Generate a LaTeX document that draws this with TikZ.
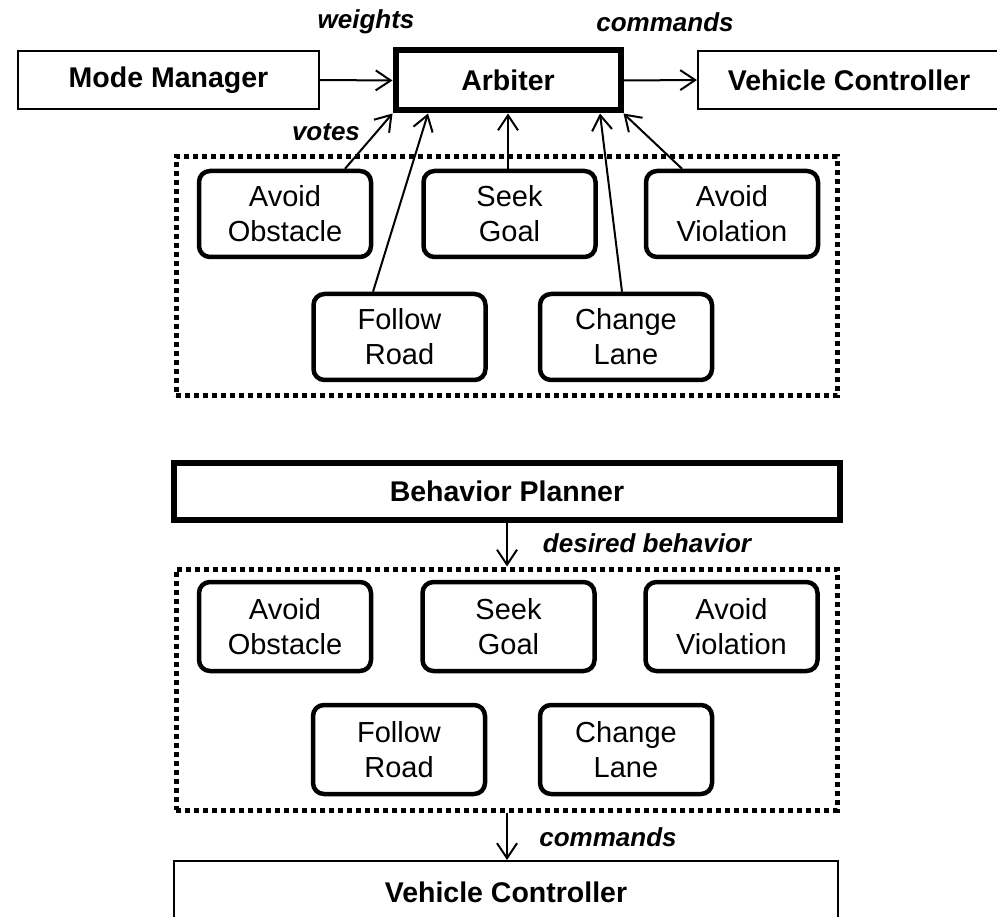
\documentclass[tikz,border=0pt]{standalone}
\usepackage{fontspec}
\setmainfont{Liberation Sans}
\usetikzlibrary{arrows.meta,calc}

\tikzset{
  plainbox/.style={draw, line width=2pt, rectangle, inner sep=0pt,
    font=\bfseries\fontsize{28.5}{34}\selectfont},
  heavybox/.style={draw, line width=6pt, rectangle, inner sep=0pt,
    font=\bfseries\fontsize{28.5}{34}\selectfont},
  behbox/.style={draw, line width=4.5pt, rectangle, rounded corners=11pt,
    inner sep=0pt, minimum width=172pt, align=center,
    font=\fontsize{29}{35}\selectfont},
  groupframe/.style={draw, line width=5pt, rectangle, inner sep=0pt,
    dash pattern=on 5pt off 4pt},
  flowlabel/.style={font=\bfseries\itshape\fontsize{26}{30}\selectfont, inner sep=0pt},
  flow/.style={line width=2pt, -{Straight Barb[length=15pt,width=20pt]}}
}

\begin{document}
\begin{tikzpicture}[x=1pt, y=-1pt]
\useasboundingbox (0,0) rectangle (997,917);

% ---------- voting arbitration ----------
\node[plainbox, minimum width=301pt, minimum height=58pt] (mm) at (168.5,80) {Mode Manager};
\node[heavybox, minimum width=225pt, minimum height=60pt] (arb) at (508,80.5) {Arbiter};
\node[plainbox, minimum width=302pt, minimum height=58pt] (vcA) at (849,80) {Vehicle Controller};

\node[flowlabel] (wlab) at (366,22) {weights};
\node[flowlabel] (clabA) at (665,22) {commands};
\node[flowlabel] (vlab) at (326,132) {votes};

\node[groupframe, minimum width=661pt, minimum height=239pt] (grpA) at (506.5,276.5) {};

\node[behbox, minimum height=86pt] (aoA) at (285,214) {Avoid\\Obstacle};
\node[behbox, minimum height=86pt] (sgA) at (509.5,214) {Seek\\Goal};
\node[behbox, minimum height=86pt] (avA) at (732,214) {Avoid\\Violation};
\node[behbox, minimum height=86pt] (frA) at (399.5,337) {Follow\\Road};
\node[behbox, minimum height=86pt] (clA) at (626,337) {Change\\Lane};

\draw[flow] (mm.east) -- (arb.west);
\draw[flow] (arb.east) -- (vcA.west);

\draw[flow] ($(aoA.north)+(60,0)$) -- (arb.south west);
\draw[flow] ($(frA.north)+(-26.5,0)$) -- ($(arb.south)+(-80,0)$);
\draw[flow] (arb.south |- sgA.north) -- (arb.south);
\draw[flow] ($(clA.north)+(-4,0)$) -- ($(arb.south)+(92,0)$);
\draw[flow] ($(avA.north)+(-50,0)$) -- (arb.south east);

% ---------- behaviour selection ----------
\node[heavybox, line width=6.5pt, minimum width=666pt, minimum height=57pt] (bp) at (507,491.5) {Behavior Planner};

\node[flowlabel] (dlab) at (647,543) {desired behavior};

\node[groupframe, minimum width=661pt, minimum height=241pt] (grpB) at (506.5,689.5) {};

\node[behbox, minimum height=89pt] (aoB) at (285,626.5) {Avoid\\Obstacle};
\node[behbox, minimum height=89pt] (sgB) at (508.5,626.5) {Seek\\Goal};
\node[behbox, minimum height=89pt] (avB) at (731.5,626.5) {Avoid\\Violation};
\node[behbox, minimum height=89pt] (frB) at (399,749.5) {Follow\\Road};
\node[behbox, minimum height=89pt] (clB) at (626,749.5) {Change\\Lane};

\node[flowlabel] (clabB) at (608,837) {commands};

\node[plainbox, minimum width=664pt, minimum height=62pt] (vcB) at (506,892) {Vehicle Controller};

\draw[flow] (bp.south) -- (bp.south |- grpB.north);
\draw[flow] (grpB.south -| bp.south) -- (bp.south |- vcB.north);
\end{tikzpicture}
\end{document}
